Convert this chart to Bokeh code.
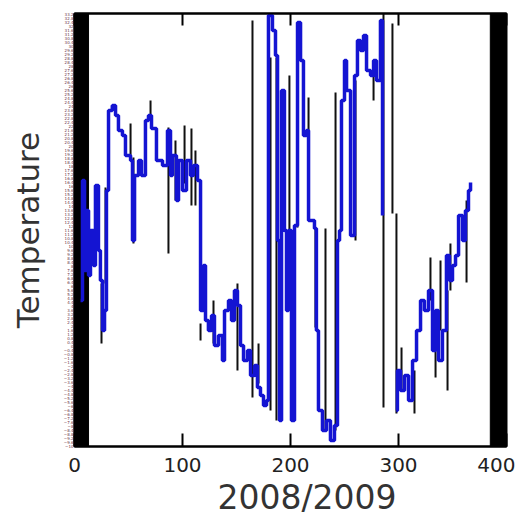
from bokeh.plotting import figure
from bokeh.models import Range1d, FixedTicker, SingleIntervalTicker, LinearAxis, Title
from bokeh.embed import file_html
from bokeh.resources import INLINE

nan = float("nan")

# ---- data ----
blue_day = [5.6, 7.4, 9.3, 11.1, 13.0, 14.8, 17.6, 19.4, 22.2, 24.0, 26.0, 27.8, 29.6, 31.5, 35.0, 38.0,
            40.7, 44.4, 47.2, 51.9, 53.7, 55.6, 59.3, 62.0, 65.7, 68.5, 71.3, 75.9, 81.5, 86.1, 88.9, 90.7,
            94.4, 96.3, 100.0, 103.7, 107.4, 110.2, 113.9, 116.7, 119.4, 121.3, 124.0, 126.9, 129.6, 133.3,
            137.0, 138.9, 142.6, 145.4, 148.1, 150.9, 153.7, 156.5, 160.2, 163.0, 166.7, 169.4, 172.2, 175.0,
            177.8, 179.6, 183.3, 186.1, 188.0, 189.8, 191.7, 194.4, 196.3, 198.1, 200.9, 203.7, 206.5, 209.3,
            212.0, 214.8, 216.7, 222.2, 224.0, 225.9, 229.6, 233.3, 237.0, 240.7, 243.5, 245.4, 247.2, 250.0,
            251.9, 255.6, 259.3, 262.0, 264.8, 267.6, 270.4, 274.1, 276.9, 279.6, 283.3, 285.2, 287.0, 298.0,
            299.0, 301.9, 305.6, 309.3, 313.0, 316.7, 320.4, 324.0, 327.8, 331.5, 334.3, 337.0, 340.7, 344.4,
            347.2, 350.0, 352.8, 355.6, 359.3, 362.0, 364.8, 366.7]
blue_temp = [4.6, 16.6, 7.6, 13.6, 7.1, 11.6, 8.1, 16.1, 9.6, 6.6, 1.6, 3.6, 15.6, 23.6, 24.1, 23.1,
             21.6, 21.1, 19.1, 18.6, 10.6, 17.1, 18.6, 17.1, 22.6, 23.1, 21.8, 18.6, 18.1, 21.6, 17.1, 19.1,
             14.6, 18.6, 15.6, 18.6, 17.1, 18.1, 16.6, 3.6, 8.1, 2.6, 1.6, 3.1, 0.1, 1.1,
             -1.4, 3.6, 4.6, 2.6, 5.6, 4.1, 0.1, -1.4, -0.4, -2.9, -1.9, -4.1, -4.9, -5.9,
             -5.4, 33.1, 31.6, 29.1, 10.6, -7.4, 25.6, 11.6, 3.6, 11.6, -7.4, 12.1, 32.4, 28.6,
             21.1, 21.6, 12.6, 11.8, 1.6, -6.4, -8.4, -7.4, -9.4, -7.9, 10.6, 11.6, 24.6, 28.6,
             25.6, 11.1, 27.1, 30.6, 29.6, 31.1, 27.6, 27.1, 28.6, 26.6, 32.6, 13.1, nan, -6.4,
             -2.4, -4.4, -2.9, -5.4, -1.4, 1.6, 4.6, 3.6, 5.6, -0.4, 3.6, -1.4, 1.6, 9.1,
             6.6, 8.1, 9.1, 13.1, 10.6, 13.6, 15.6, 16.4]

spike_day = [25.0, 28.7, 51.9, 54.6, 70.4, 87.0, 93.5, 101.9, 108.3, 112.0, 116.7, 128.7, 150.9, 164.8,
             170.4, 181.5, 187.0, 199.0, 206.5, 216.7, 223.1, 232.4, 241.7, 260.2, 276.9, 286.1, 294.4,
             298.1, 302.8, 314.8, 329.6, 334.3, 338.9, 345.4, 348.1, 363.0]
spike_hi = [6.3, 15.9, 22.3, 18.9, 24.6, 21.9, 20.6, 22.1, 21.8, 19.6, 2.3, 4.6, 6.3, 32.6,
            0.3, 28.9, 28.9, 27.1, 27.3, 24.9, 11.9, 11.8, 25.4, 26.6, 28.6, 33.6, 32.3,
            13.3, -0.1, -2.4, 8.9, 2.6, 8.6, 5.6, 10.3, 14.6]
spike_lo = [0.3, 6.3, 18.6, 10.3, 22.9, 9.3, 14.6, 16.3, 14.1, 14.1, 0.6, 0.3, -2.4, -5.1,
            -3.7, -6.4, -7.4, 11.6, 11.9, 12.6, 1.9, -8.4, -8.4, 10.6, 24.6, -6.1, 13.3,
            -6.7, -4.4, -6.7, 4.6, -3.1, 1.6, -4.4, 5.6, 6.4]

band_start = [0, 385]
band_end = [13, 400]

x_ticks = [0, 100, 200, 300, 400]
x_title = "2008/2009"
y_title = "Temperature"
y_min, y_max = -10, 33.3

p = figure(width=515, height=523, output_backend="svg", toolbar_location=None,
           x_range=Range1d(0, 400), y_range=Range1d(y_min, y_max),
           min_border_left=74, min_border_right=9, min_border_top=13, min_border_bottom=77)
p.grid.visible = False
p.background_fill_color = "white"
p.border_fill_color = "white"
p.outline_line_color = "black"
p.outline_line_width = 2

# black bands
p.quad(left=band_start, right=band_end, bottom=[y_min] * len(band_start), top=[y_max] * len(band_start),
       fill_color="black", line_color="black")

# black spikes
p.segment(x0=spike_day, x1=spike_day, y0=spike_lo, y1=spike_hi, line_color="#101010", line_width=2)

# blue temperature trace
p.step(blue_day, blue_temp, mode="after", line_color="#1414d2", line_width=3.5)

# x axis
xa = p.xaxis[0]
xa.ticker = FixedTicker(ticks=x_ticks)
xa.major_tick_in = 13
xa.major_tick_out = 0
xa.minor_tick_line_color = None
xa.axis_line_width = 2
xa.major_tick_line_width = 2
xa.major_label_text_font = "DejaVu Sans"
xa.major_label_text_font_size = "20px"
xa.major_label_text_color = "#222222"
xa.major_label_standoff = 11

top = LinearAxis(ticker=FixedTicker(ticks=x_ticks), major_tick_in=12, major_tick_out=0,
                 minor_tick_line_color=None, major_label_text_alpha=0, major_label_text_font_size="1px",
                 major_label_standoff=1, axis_line_width=2, major_tick_line_width=2)
p.add_layout(top, "above")

# y axis (densely packed tick labels)
ya = p.yaxis[0]
ya.ticker = SingleIntervalTicker(interval=0.4, num_minor_ticks=0)
ya.major_tick_in = 0
ya.major_tick_out = 0
ya.minor_tick_line_color = None
ya.axis_line_width = 2
ya.major_label_text_font = "DejaVu Sans"
ya.major_label_text_font_size = "4px"
ya.major_label_text_color = "#6b2f3f"
ya.major_label_standoff = 1
ya.axis_label = y_title
ya.axis_label_text_font = "DejaVu Sans"
ya.axis_label_text_font_size = "31px"
ya.axis_label_text_font_style = "normal"
ya.axis_label_text_color = "#333333"
ya.axis_label_standoff = 15

xt = Title(text=x_title, align="left", offset=143, vertical_align="bottom", standoff=2,
           text_font="DejaVu Sans", text_font_size="33px", text_font_style="normal",
           text_color="#333333")
p.add_layout(xt, "below")

open("out.html", "w").write(file_html(p, INLINE))
